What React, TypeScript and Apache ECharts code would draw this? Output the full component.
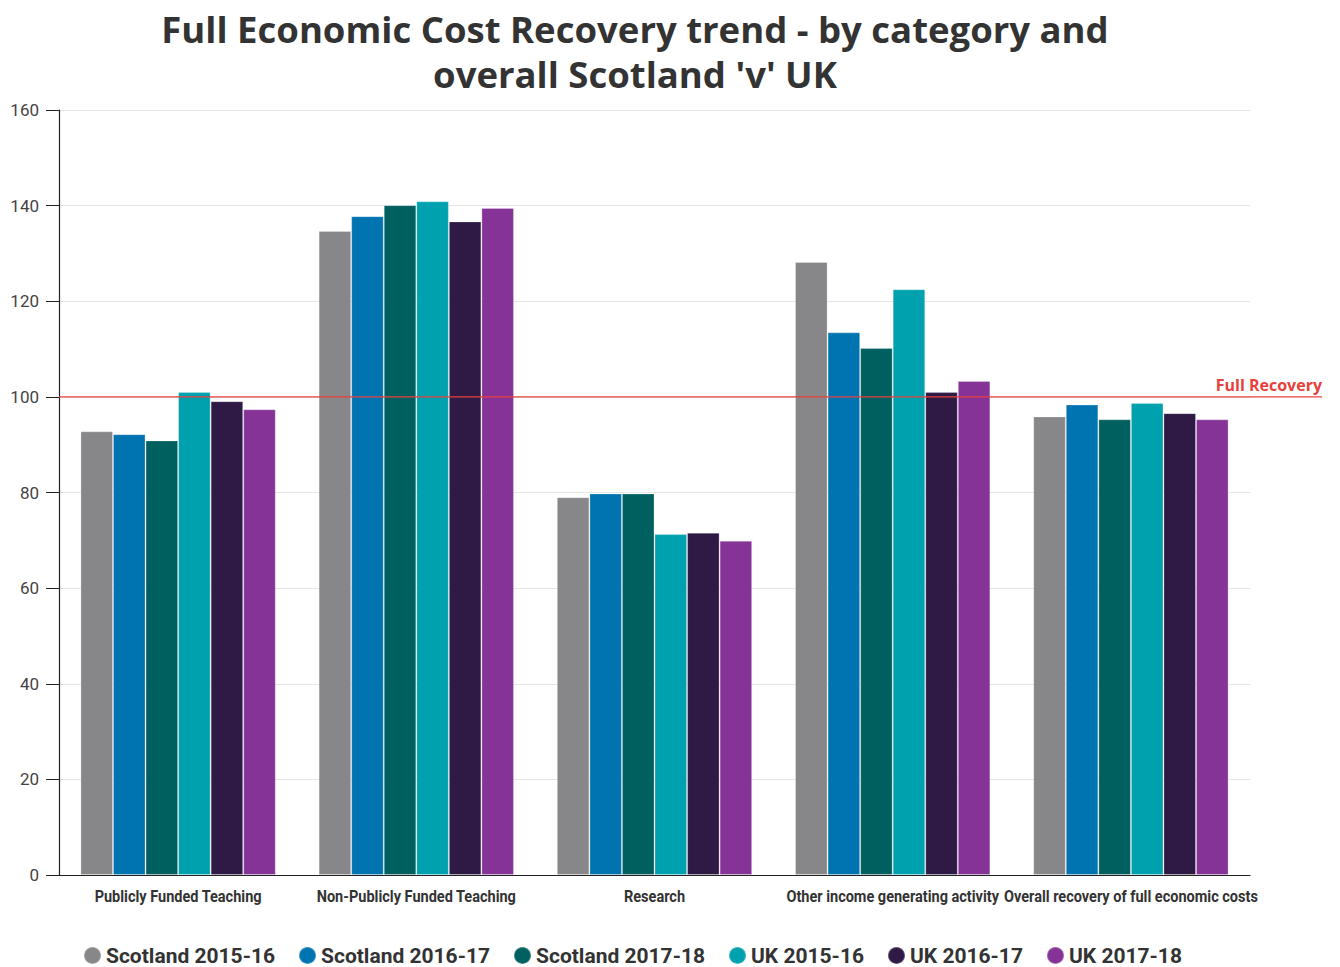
import React, { useEffect, useRef } from "react";
import * as echarts from "echarts";

const categories = [
  "Publicly Funded Teaching",
  "Non-Publicly Funded Teaching",
  "Research",
  "Other income generating activity",
  "Overall recovery of full economic costs",
];
const seriesNames = [
  "Scotland 2015-16",
  "Scotland 2016-17",
  "Scotland 2017-18",
  "UK 2015-16",
  "UK 2016-17",
  "UK 2017-18",
];
const scotland1516 = [92.8, 134.7, 79.0, 128.2, 95.9];
const scotland1617 = [92.2, 137.8, 79.8, 113.5, 98.4];
const scotland1718 = [90.9, 140.1, 79.8, 110.2, 95.3];
const uk1516 = [101.0, 140.9, 71.3, 122.5, 98.7];
const uk1617 = [99.1, 136.7, 71.6, 101.0, 96.6];
const uk1718 = [97.4, 139.5, 69.9, 103.3, 95.3];
const seriesValues = [scotland1516, scotland1617, scotland1718, uk1516, uk1617, uk1718];
const colors = ["#878789", "#0074b0", "#005f5f", "#00a1af", "#2e1a45", "#853397"];
const yTicks = [0, 20, 40, 60, 80, 100, 120, 140, 160];
const fullRecovery = 100;
const fullRecoveryLabel = "Full Recovery";
const titleLines = ["Full Economic Cost Recovery trend - by category and", "overall Scotland 'v' UK"];

const labelFont = 'bold 16px Roboto, sans-serif';

export default function App() {
  const ref = useRef<HTMLDivElement>(null);
  useEffect(() => {
    document.body.style.margin = "0";
    const chart = echarts.init(ref.current!, undefined, { renderer: "svg" });
    const titleGraphics = titleLines.map((t, i) => ({
      type: "text",
      x: 635,
      y: 29 + i * 45,
      style: {
        text: t,
        textAlign: "center",
        textVerticalAlign: "middle",
        font: 'bold 36.5px "Open Sans", sans-serif',
        fill: "#333333",
      },
    }));
    chart.setOption({
      animation: false,
      backgroundColor: "#ffffff",
      color: colors,
      graphic: titleGraphics,
      grid: { left: 59, right: 90, top: 110, bottom: 92, containLabel: false },
      legend: {
        bottom: 1,
        left: 83,
        padding: 0,
        icon: "circle",
        itemWidth: 17,
        itemHeight: 17,
        itemGap: 23,
        textStyle: { fontFamily: "Roboto, sans-serif", fontWeight: "bold", fontSize: 21, color: "#333333" },
        data: seriesNames,
      },
      xAxis: {
        type: "category",
        data: categories,
        axisLine: { lineStyle: { color: "#222222", width: 1.2 } },
        axisTick: { alignWithLabel: true, length: 8, lineStyle: { color: "#222222" } },
        axisLabel: { show: false },
      },
      yAxis: {
        type: "value",
        min: yTicks[0],
        max: yTicks[yTicks.length - 1],
        interval: 20,
        axisLine: { show: true, lineStyle: { color: "#222222", width: 1.2 } },
        axisTick: { show: true, length: 13, lineStyle: { color: "#222222" } },
        axisLabel: { fontFamily: "Roboto, sans-serif", fontSize: 17, color: "#444444", margin: 20 },
        splitLine: { lineStyle: { color: "#e6e6e6" } },
      },
      series: seriesNames.map((name, i) => ({
        name,
        type: "bar",
        data: seriesValues[i],
        barGap: "0%",
        barCategoryGap: "18%",
        itemStyle: { color: colors[i], borderColor: "rgba(255,255,255,0.25)", borderWidth: 1 },
      })),
    });

    // condensed look for category labels: scale Roboto horizontally
    const ctx = document.createElement("canvas").getContext("2d")!;
    ctx.font = labelFont;
    const longest = ctx.measureText(categories[4]).width || 300;
    const sx = Math.min(1, 254 / longest);

    const y = chart.convertToPixel({ yAxisIndex: 0 }, fullRecovery) as number;
    const yBase = chart.convertToPixel({ yAxisIndex: 0 }, 0) as number;
    const labelGraphics = categories.map((c, i) => ({
      type: "text",
      x: chart.convertToPixel({ xAxisIndex: 0 }, i) as number,
      y: yBase + 22,
      scaleX: sx,
      style: {
        text: c,
        textAlign: "center",
        textVerticalAlign: "middle",
        font: labelFont,
        fill: "#333333",
      },
    }));
    chart.setOption({
      graphic: [
        ...titleGraphics,
        ...labelGraphics,
        {
          type: "line",
          z: 100,
          shape: { x1: 59, y1: y, x2: 1322, y2: y },
          style: { stroke: "#e8413b", lineWidth: 1.3 },
        },
        {
          type: "text",
          z: 100,
          x: 1322,
          y: y - 4,
          style: {
            text: fullRecoveryLabel,
            textAlign: "right",
            textVerticalAlign: "bottom",
            font: 'bold 16px "Open Sans", sans-serif',
            fill: "#e8413b",
          },
        },
      ],
    });
    return () => chart.dispose();
  }, []);
  return <div ref={ref} style={{ width: 1340, height: 967 }} />;
}
